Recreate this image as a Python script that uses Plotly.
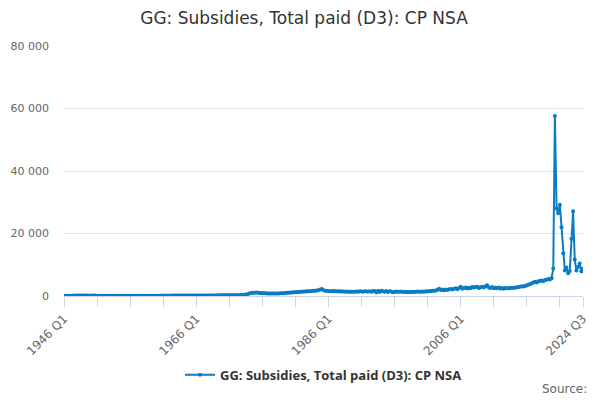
import plotly.graph_objects as go

title = "GG: Subsidies, Total paid (D3): CP NSA"

first_year = 1946
last_year = 2024

# quarterly values, GBP million (one row per year)
values_by_year = [
    [95, 110, 102, 118],          # 1946
    [112, 125, 118, 130],
    [128, 140, 135, 146],
    [130, 142, 138, 150],
    [120, 128, 124, 132],         # 1950
    [110, 118, 112, 120],
    [100, 108, 104, 112],
    [96, 104, 98, 106],
    [88, 94, 90, 98],
    [84, 92, 88, 95],
    [90, 98, 94, 102],
    [96, 104, 100, 108],
    [100, 110, 104, 114],
    [105, 114, 108, 118],
    [110, 118, 112, 122],         # 1960
    [115, 124, 118, 128],
    [120, 128, 124, 134],
    [126, 136, 130, 140],
    [132, 142, 136, 148],
    [138, 150, 144, 156],
    [146, 158, 150, 164],
    [160, 174, 168, 180],
    [178, 192, 186, 198],
    [190, 204, 196, 210],
    [205, 220, 212, 228],         # 1970
    [225, 240, 232, 250],
    [250, 272, 265, 290],
    [320, 380, 460, 560],
    [780, 920, 1010, 1080],
    [1060, 1120, 980, 940],
    [920, 880, 860, 840],
    [820, 800, 780, 810],
    [800, 830, 820, 860],
    [880, 920, 950, 1010],
    [1060, 1120, 1150, 1210],     # 1980
    [1240, 1290, 1310, 1360],
    [1380, 1420, 1450, 1490],
    [1520, 1560, 1600, 1650],
    [1700, 1760, 1820, 2050],
    [2230, 1850, 1720, 1640],
    [1600, 1560, 1530, 1580],
    [1540, 1500, 1480, 1520],
    [1460, 1420, 1400, 1450],
    [1380, 1350, 1330, 1400],
    [1360, 1420, 1380, 1500],     # 1990
    [1450, 1380, 1520, 1440],
    [1480, 1560, 1400, 1620],
    [1580, 1100, 1650, 1300],
    [1700, 1500, 1350, 1600],
    [1250, 1550, 1420, 1180],
    [1300, 1450, 1350, 1400],
    [1480, 1250, 1350, 1300],
    [1280, 1320, 1250, 1380],
    [1300, 1350, 1420, 1380],
    [1400, 1460, 1380, 1520],     # 2000
    [1480, 1550, 1600, 1700],
    [1650, 1800, 2000, 2350],
    [1900, 2050, 1850, 2100],
    [1950, 2150, 2250, 2050],
    [2300, 2450, 2200, 2600],
    [2950, 2300, 2550, 2700],
    [2400, 2650, 2500, 2850],
    [2700, 2900, 3000, 2600],
    [2800, 2950, 2700, 3100],
    [3450, 2750, 2600, 2900],     # 2010
    [2500, 2650, 2450, 2700],
    [2400, 2550, 2350, 2600],
    [2450, 2500, 2550, 2650],
    [2600, 2750, 2700, 2900],
    [3000, 3150, 3050, 3300],
    [3400, 3650, 3800, 4100],
    [4300, 4550, 4350, 4700],
    [4800, 4950, 4750, 5100],
    [5200, 5450, 5300, 5650],
    [8800, 57600, 28000, 26500],  # 2020
    [29200, 22000, 13700, 8200],
    [9100, 7300, 8000, 18300],
    [27100, 11700, 8200, 9300],
    [10400, 7900, 8700],          # 2024
]

quarters = []
values = []
for i, row in enumerate(values_by_year):
    for q, v in enumerate(row):
        quarters.append(f"{first_year + i} Q{q + 1}")
        values.append(v)

# tick marks every 5 years, labels every 20 years plus the last quarter
tick_cats = quarters[::20] + [quarters[-1]]
tick_text = [c if (i % 4 == 0) else "" for i, c in enumerate(tick_cats[:-1])] + [quarters[-1]]

fig = go.Figure()
fig.add_trace(go.Scatter(
    x=quarters, y=values, mode="lines+markers", name=title,
    line=dict(color="#0b7cc1", width=2),
    marker=dict(color="#0b7cc1", size=4),
))

# page body has an 8px margin, so the figure is drawn a bit smaller
fig.update_layout(
    width=592, height=392,
    paper_bgcolor="white", plot_bgcolor="white",
    margin=dict(l=56, r=17, t=38, b=103),
    separators=". ",
    font=dict(family="DejaVu Sans", color="#666666"),
    title=dict(text=title, x=0.5, xanchor="center", y=0.974, yanchor="middle",
               font=dict(size=17, color="#333333")),
    showlegend=True,
    legend=dict(orientation="h", x=0.5, xanchor="center", y=-0.31, yanchor="middle",
                font=dict(family="Open Sans", size=13, color="#333333", weight="bold")),
)
fig.update_xaxes(
    type="category", range=[0, len(quarters) - 1], automargin=False,
    tickmode="array", tickvals=tick_cats, ticktext=tick_text,
    tickangle=-45, ticks="outside", ticklen=10, tickcolor="#ccd6eb",
    showline=True, linecolor="#ccd6eb", showgrid=False,
    tickfont=dict(size=12, color="#666666"),
)
fig.update_yaxes(
    range=[0, 80000], tickvals=[0, 20000, 40000, 60000, 80000], tickformat=",",
    showgrid=True, gridcolor="#e6e6e6", zeroline=False, showline=False, automargin=False,
    tickfont=dict(size=11, color="#666666"), ticklabelstandoff=14,
)
fig.add_annotation(text="Source:", xref="paper", yref="paper", x=1.012, y=-0.37,
                   xanchor="right", yanchor="middle", showarrow=False,
                   font=dict(size=12, color="#666666"))

fig.write_html("out.html")
